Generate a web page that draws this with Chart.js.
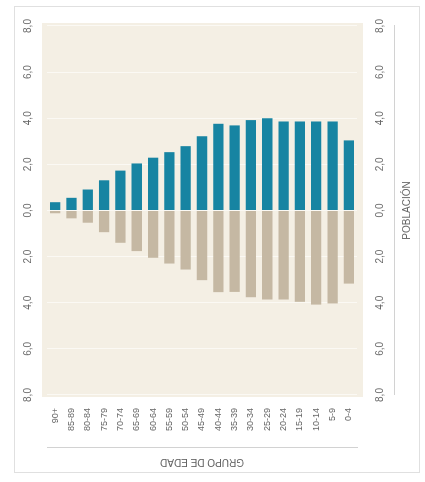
<!DOCTYPE html>
<html>
<head>
<meta charset="utf-8">
<script src="https://cdn.jsdelivr.net/npm/chart.js@4/dist/chart.umd.min.js"></script>
<style>
  html, body { margin: 0; padding: 0; background: #ffffff; overflow: hidden; }
  body { width: 425px; height: 482px; position: relative; }
  #wrap {
    position: absolute; left: 0; top: 0; width: 482px; height: 425px;
    transform-origin: 0 0; transform: translate(0, 482px) rotate(-90deg);
  }
  #frame {
    position: absolute; left: 9px; top: 14px; width: 467px; height: 406px;
    border: 1px solid #e0e0e0; box-sizing: border-box;
  }
  #c { position: absolute; left: 0; top: 0; width: 482px; height: 425px; }
</style>
</head>
<body>
<div id="wrap">
  <div id="frame"></div>
  <canvas id="c" width="482" height="425"></canvas>
</div>
<script>
// Age groups (top of the pyramid first)
const categories = ['90+','85-89','80-84','75-79','70-74','65-69','60-64','55-59','50-54','45-49','40-44','35-39','30-34','25-29','20-24','15-19','10-14','5-9','0-4'];
// Teal series (drawn on the positive side)
const mujeres = [0.36,0.55,0.91,1.31,1.73,2.04,2.29,2.53,2.79,3.22,3.76,3.69,3.92,4.00,3.86,3.86,3.86,3.86,3.04];
// Beige series (drawn on the negative side)
const hombres = [0.12,0.34,0.53,0.94,1.40,1.76,2.05,2.30,2.56,3.02,3.54,3.53,3.76,3.86,3.86,3.96,4.08,4.03,3.17];
// Value axis ticks
const valueTicks = [-8,-6,-4,-2,0,2,4,6,8];
const axisTitleCategory = 'GRUPO DE EDAD';
const axisTitleValue = 'POBLACIÓN';

const fmt = v => Math.abs(v).toFixed(1).replace('.', ',');
const FONT = "'Liberation Sans', Arial, sans-serif";

const bgPlugin = {
  id: 'plotBg',
  beforeDraw(chart) {
    const a = chart.chartArea, ctx = chart.ctx;
    ctx.save();
    ctx.fillStyle = '#f4efe4';
    ctx.fillRect(a.left - 2, a.top - 5, (a.right - a.left) + 5, (a.bottom - a.top) + 11);
    ctx.restore();
  }
};

const setTicks = scale => { scale.ticks = valueTicks.map(v => ({ value: v })); };

new Chart(document.getElementById('c'), {
  type: 'bar',
  data: {
    labels: categories,
    datasets: [
      { label: 'Hombres', data: hombres.map(v => -v), backgroundColor: '#c5b8a3', borderWidth: 0 },
      { label: 'Mujeres', data: mujeres, backgroundColor: '#1784a2', borderWidth: 0 }
    ]
  },
  options: {
    indexAxis: 'y',
    responsive: false,
    animation: false,
    devicePixelRatio: 1,
    datasets: { bar: { categoryPercentage: 1.0, barPercentage: 0.63 } },
    layout: { padding: { left: 9, right: 26, top: 14, bottom: 5 } },
    plugins: { legend: { display: false }, tooltip: { enabled: false } },
    scales: {
      y: {
        type: 'category', position: 'left', stacked: true, weight: 0,
        grid: { display: false, drawTicks: false },
        border: { display: false },
        ticks: { font: { family: FONT, size: 9 }, color: '#666', padding: 13, autoSkip: false },
        afterFit: s => { s.width = 53; }
      },
      y2: {
        type: 'category', position: 'left', weight: 1,
        grid: { display: false, drawTicks: false },
        border: { display: true, color: '#d2d2d2', width: 1 },
        ticks: { display: false },
        title: { display: true, text: axisTitleCategory, color: '#666',
                 font: { family: FONT, size: 10 }, padding: { top: 5, bottom: 0 } },
        afterFit: s => { s.width = 25; }
      },
      x: {
        type: 'linear', position: 'bottom', stacked: true, weight: 0,
        min: valueTicks[0], max: valueTicks[valueTicks.length - 1],
        afterBuildTicks: setTicks,
        grid: { display: true, drawTicks: false, color: 'rgba(255,255,255,0.6)', lineWidth: 1 },
        border: { display: false },
        ticks: { callback: fmt, font: { family: FONT, size: 10 }, color: '#6a6a6a', padding: 17, maxRotation: 0 },
        afterFit: s => { s.height = 37; }
      },
      x2: {
        type: 'linear', position: 'top', weight: 0,
        min: valueTicks[0], max: valueTicks[valueTicks.length - 1],
        afterBuildTicks: setTicks,
        grid: { display: false, drawTicks: false },
        border: { display: false },
        ticks: { callback: fmt, font: { family: FONT, size: 10 }, color: '#6a6a6a', padding: 13, maxRotation: 0 },
        afterFit: s => { s.height = 33; }
      },
      x3: {
        type: 'linear', position: 'bottom', weight: 1,
        min: valueTicks[0], max: valueTicks[valueTicks.length - 1],
        grid: { display: false, drawTicks: false },
        border: { display: true, color: '#d2d2d2', width: 1 },
        ticks: { display: false },
        title: { display: true, text: axisTitleValue, color: '#666',
                 font: { family: FONT, size: 10 }, padding: { top: 0, bottom: 7 } },
        afterFit: s => { s.height = 26; }
      }
    }
  },
  plugins: [bgPlugin]
});
</script>
</body>
</html>
